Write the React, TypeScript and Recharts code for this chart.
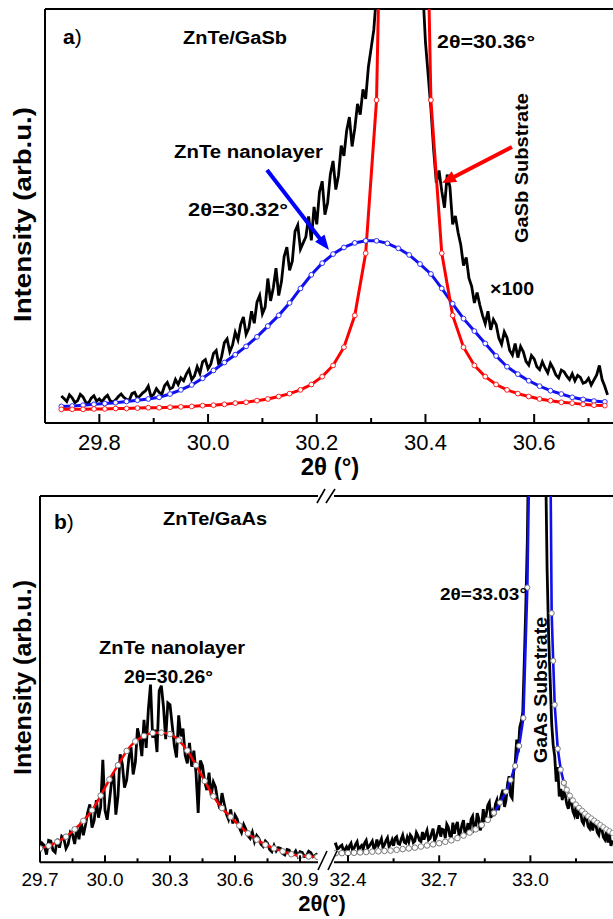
import React from 'react';
import { LineChart, Line, XAxis, YAxis, ReferenceLine } from 'recharts';

const FONT = '"Liberation Sans", Arial, Helvetica, sans-serif';

// ---------- Panel a) ZnTe/GaSb ----------
const aNoiseStart = 29.73;
const aNoiseStep = 0.005;
const aMeasured = [
  6.5, 5.9, 5.2, 6.8, 6.1, 4.9, 5.4, 6.9, 6.3, 5.0, 4.8, 6.0, 6.6, 5.3, 5.8,
  5.1, 6.1, 6.7, 5.4, 5.0, 5.6, 6.4, 7.0, 6.2, 5.7, 5.5, 7.1, 7.4, 6.0, 6.6, 7.3,
  7.8, 8.9, 6.4, 6.9, 8.3, 7.4, 7.0, 9.0, 9.8, 8.2, 8.6, 10.5, 9.3, 10.9,
  10.2, 11.8, 12.9, 10.5, 11.4, 13.6, 12.0, 14.8, 15.3, 13.1,
  14.2, 16.8, 17.5, 13.9, 16.1, 19.4, 20.3, 17.2, 18.8, 21.9,
  20.1, 23.8, 25.6, 21.4, 22.9, 27.0, 24.1, 29.2, 30.8, 26.4,
  28.0, 34.9, 29.5, 32.6, 37.4, 30.8, 34.1, 40.2, 42.5, 36.9,
  39.1, 46.3, 47.8, 42.0, 43.5, 45.0, 49.9, 44.1, 52.2, 48.0,
  55.8, 58.4, 50.3, 53.2, 60.1, 63.3, 56.4, 59.8, 67.0, 64.5,
  70.6, 73.9, 66.8, 71.2, 77.1, 74.5, 80.6, 78.3, 86.0, 90.5,
  95, 104, 130, 150, 160, 170, 180, 190, 200, 210, 200, 190, 180, 170, 160, 150, 130, 115,
  105, 92, 84, 76, 66, 58,
  61, 56, 52, 60, 57, 48, 50, 46, 43, 38,
  40, 35, 33, 29, 31.5, 28.5, 26, 24, 27, 22.5,
  25, 23.8, 20.5, 19, 22, 20.6, 17.5, 16.4, 19.2, 15.8,
  18.5, 17.2, 14.9, 14.0, 16.3, 15.5, 13.6, 12.9, 14.8, 13.3,
  12.1, 14.4, 13.2, 11.6, 10.9, 12.8, 12.4, 11.3, 10.5, 11.9,
  10.2, 11.5, 11.0, 9.6, 9.9, 10.8, 9.2, 10.4, 11.6, 13.9,
  10.5, 8.8, 6.8,
];

const aFitStart = 29.73;
const aFitStep = 0.02;
const aZnTeFit = [
  4.0, 4.1, 4.3, 4.5, 4.7, 4.9, 5.2, 5.5, 5.8, 6.2,
  7.0, 8.0, 9.2, 10.8, 12.7, 14.6, 16.5, 18.5, 20.8, 23.4,
  26.0, 29.0, 32.5, 35.8, 38.6, 40.8, 42.4, 43.5, 44.0, 44.0,
  43.4, 42.2, 40.6, 38.4, 36.0, 32.5, 28.8, 25.2, 22.2, 19.2,
  16.2, 13.6, 11.8, 10.2, 8.9, 7.8, 7.0, 6.2, 5.7, 5.3, 5.1,
];
const aGaSbFit = [
  3.3, 3.3, 3.3, 3.4, 3.4, 3.5, 3.5, 3.6, 3.7, 3.7,
  3.8, 3.9, 4.0, 4.2, 4.3, 4.5, 4.8, 5.0, 5.4, 5.8,
  6.4, 7.1, 8.0, 9.3, 11.2, 13.9, 18.3, 26, 41, 78,
  212, 1500, 1500, 212, 78, 41, 26, 18.3, 13.9, 11.2,
  9.3, 8.0, 7.1, 6.4, 5.8, 5.4, 5.0, 4.8, 4.5, 4.3, 4.2,
];
const aDomain = [29.7, 30.75];
const aTicks = [29.8, 29.9, 30.0, 30.1, 30.2, 30.3, 30.4, 30.5, 30.6, 30.7];
const aMajorTicks = [29.8, 30.0, 30.2, 30.4, 30.6];

// ---------- Panel b) ZnTe/GaAs ----------
const bLeftStart = 29.7;
const bLeftStep = 0.01;
const bLeftMeasured = [
  3.0, 5.2, 4.6, 2.1, 6.0, 5.8, 3.3, 2.7, 6.4, 4.0,
  7.1, 6.5, 3.8, 4.9, 8.2, 7.6, 5.0, 9.4, 6.3, 11.0,
  7.4, 10.2, 13.6, 15.8, 9.5, 11.4, 17.0, 12.2, 15.1, 28.0,
  14.2, 11.6, 16.5, 21.8, 24.6, 13.0, 18.1, 29.5, 26.8, 20.4,
  22.5, 28.4, 31.5, 24.0, 27.3, 36.6, 33.8, 29.0, 38.9, 31.2,
  41.6, 48.5, 34.0, 36.2, 30.1, 46.8, 48.2, 42.4, 33.6, 43.5,
  43.0, 37.5, 31.8, 28.6, 40.1, 34.4, 36.5, 29.2, 27.0, 32.6,
  26.1, 30.5, 24.4, 13.5, 27.8, 26.3, 22.0, 19.7, 24.5, 18.3,
  21.9, 20.5, 16.8, 14.6, 18.9, 16.0, 13.2, 11.7, 14.4, 10.6,
  12.9, 11.8, 9.4, 8.1, 10.3, 9.0, 7.2, 6.5, 8.2, 5.6,
  7.3, 6.5, 4.9, 4.3, 5.8, 5.2, 3.5, 2.9, 4.6, 3.1,
  4.0, 3.8, 2.4, 2.0, 3.5, 3.3, 1.9, 2.2, 3.1, 1.7,
  2.9, 2.7, 1.6, 1.8, 3.0, 2.6, 1.5, 1.9, 2.4,
];
const bLeftFitStart = 29.7;
const bLeftFitStep = 0.04;
const bZnTeFit = [
  3.8, 4.5, 5.6, 7.0, 9.0, 11.3, 14.2, 18.2, 22.6, 26.5,
  30.4, 33.0, 34.5, 35.3, 35.4, 35.0, 33.3, 30.5, 26.5, 22.2,
  18.0, 14.8, 12.4, 10.0, 7.9, 6.2, 4.8, 3.8, 3.0, 2.2,
  1.8, 1.6, 1.5,
];
const bLeftDomain = [29.7, 30.983];
const bLeftTicks = [29.7, 29.85, 30.0, 30.15, 30.3, 30.45, 30.6, 30.75, 30.9];
const bLeftMajorTicks = [29.7, 30.0, 30.3, 30.6, 30.9];

const bRightStart = 32.355;
const bRightStep = 0.005;
const bRightMeasured = [
  4.8, 5.0, 3.6, 3.9, 4.4, 4.7, 3.1, 3.5, 4.2, 2.9,
  4.5, 5.2, 3.3, 3.8, 4.9, 5.6, 3.2, 4.1, 4.6, 3.6,
  5.3, 6.0, 3.9, 4.4, 5.1, 5.8, 3.7, 4.2, 6.2, 4.6,
  5.4, 6.4, 4.0, 4.8, 5.9, 6.7, 4.3, 5.0, 6.1, 4.5,
  6.6, 7.0, 5.1, 4.9, 6.3, 7.4, 5.5, 5.2, 6.8, 5.6,
  7.5, 6.9, 5.4, 5.8, 8.1, 7.3, 6.0, 5.7, 8.3, 6.2,
  7.6, 8.7, 6.1, 6.5, 7.9, 9.2, 5.9, 6.8, 8.4, 10.1,
  7.0, 9.0, 8.8, 6.6, 10.4, 9.6, 7.2, 6.9, 10.8, 7.8,
  9.9, 11.0, 7.4, 8.2, 10.2, 11.5, 7.6, 8.6, 10.7, 8.0,
  11.8, 12.6, 8.9, 9.4, 13.4, 12.0, 8.7, 10.1, 14.5, 11.0,
  13.2, 15.6, 16.4, 12.1, 13.8, 12.6, 15.9, 17.0, 14.2, 16.8,
  18.5, 19.8, 15.1, 17.0, 21.4, 23.5, 18.2, 17.5, 24.8, 27.0,
  33.5, 30.0, 36.8, 38.5, 41, 55, 70, 88, 120, 240,
  320, 400, 450, 480, 470, 430, 380, 300, 200, 110,
  80, 62, 50, 38, 32, 29, 22, 26, 18, 20,
  17.0, 19.5, 18.2, 15.8, 14.6, 17.4, 16.2, 13.9, 12.8, 15.0,
  11.9, 14.6, 13.8, 11.2, 10.5, 12.6, 12.0, 9.8, 9.2, 11.5,
  8.7, 11.1, 10.4, 8.2, 7.5, 9.8, 9.1, 6.9, 6.2, 8.4,
  5.4, 7.6, 4.5, 6.0,
];
const bTailLeftX = [32.36, 32.38, 32.40, 32.42, 32.44, 32.46, 32.48, 32.50, 32.52, 32.54, 32.56, 32.58, 32.60, 32.62, 32.64, 32.66, 32.68, 32.70, 32.72, 32.74, 32.76, 32.78, 32.80, 32.82, 32.84, 32.86, 32.88];
const bTailLeftY = [2.5, 2.5, 2.5, 2.6, 2.7, 2.8, 2.9, 3.0, 3.1, 3.2, 3.4, 3.6, 3.8, 4.0, 4.3, 4.6, 4.9, 5.2, 5.6, 6.0, 6.6, 7.3, 8.1, 9.0, 10.2, 11.6, 13.5];
const bPeakX = [32.88, 32.90, 32.92, 32.935, 32.95, 32.963, 32.977, 32.99, 33.00, 33.035, 33.065, 33.07, 33.075, 33.08, 33.09, 33.10, 33.11];
const bPeakY = [13.5, 16.3, 19.3, 22.5, 26.3, 31.8, 39.4, 75, 130, 600, 120, 68, 55, 43, 31, 25.3, 21.7];
const bTailRightX = [33.11, 33.12, 33.13, 33.14, 33.15, 33.16, 33.17, 33.18, 33.19, 33.20, 33.21, 33.22, 33.23, 33.24, 33.25, 33.26, 33.27];
const bTailRightY = [21.7, 19.8, 18.2, 16.9, 15.8, 14.9, 14.1, 13.3, 12.6, 12.0, 11.4, 10.8, 10.2, 9.6, 9.0, 8.5, 8.0];
const bRightDomain = [32.354, 33.28];
const bRightTicks = [32.4, 32.55, 32.7, 32.85, 33.0, 33.15];
const bRightMajorTicks = [32.4, 32.7, 33.0];

// ---------- helpers ----------
const onGrid = (start: number, step: number, ys: number[]) =>
  ys.map((y, i) => ({ x: Math.round((start + i * step) * 10000) / 10000, y }));
const pairs = (xs: number[], ys: number[]) => ys.map((y, i) => ({ x: xs[i], y }));

const makeTick = (majors: number[], fontSize: number, labelDy: number, majorLen: number, minorLen: number) =>
  (props: any) => {
    const { x, y, payload } = props;
    const v = payload.value as number;
    const isMajor = majors.some((m) => Math.abs(m - v) < 1e-6);
    return (
      <g>
        <line x1={x} x2={x} y1={y} y2={y - (isMajor ? majorLen : minorLen)} stroke="#000" strokeWidth={2} />
        {isMajor && (
          <text x={x} y={y + labelDy} textAnchor="middle" fontSize={fontSize} fontFamily={FONT} fill="#000">
            {v.toFixed(1)}
          </text>
        )}
      </g>
    );
  };

const bold = { fontFamily: FONT, fontWeight: 700, fill: '#000' } as const;

export default function App() {
  const aMeas = onGrid(aNoiseStart, aNoiseStep, aMeasured);
  const aZnTe = onGrid(aFitStart, aFitStep, aZnTeFit);
  const aGaSb = onGrid(aFitStart, aFitStep, aGaSbFit);
  const bLMeas = onGrid(bLeftStart, bLeftStep, bLeftMeasured);
  const bLFit = onGrid(bLeftFitStart, bLeftFitStep, bZnTeFit);
  const bRMeas = onGrid(bRightStart, bRightStep, bRightMeasured);
  const bTL = pairs(bTailLeftX, bTailLeftY);
  const bPk = pairs(bPeakX, bPeakY);
  const bTR = pairs(bTailRightX, bTailRightY);

  return (
    <div style={{ position: 'absolute', left: 0, top: 0, width: 613, height: 919, overflow: 'hidden', background: '#fff' }}>
      {/* Panel a */}
      <div style={{ position: 'absolute', left: 0, top: 0 }}>
        <LineChart width={640} height={470} margin={{ top: 9, right: 24.3, bottom: 7, left: 45 }}>
          <XAxis
            dataKey="x"
            type="number"
            domain={aDomain}
            allowDataOverflow
            ticks={aTicks}
            interval={0}
            height={40}
            tickSize={0}
            tickMargin={0}
            tickLine={false}
            axisLine={{ stroke: '#000', strokeWidth: 2 }}
            tick={makeTick(aMajorTicks, 22, 27, 9, 5)}
          />
          <YAxis type="number" domain={[0, 100]} allowDataOverflow hide />
          <ReferenceLine y={100} stroke="#000" strokeWidth={2} />
          <ReferenceLine x={29.7} stroke="#000" strokeWidth={2} />
          <Line data={aMeas} dataKey="y" type="linear" stroke="#000" strokeWidth={2.8} dot={false} isAnimationActive={false} />
          <Line data={aZnTe} dataKey="y" type="linear" stroke="#1010ee" strokeWidth={3}
            dot={{ r: 2.4, fill: '#fff', stroke: '#3030ff', strokeWidth: 1 }} isAnimationActive={false} />
          <Line data={aGaSb} dataKey="y" type="linear" stroke="#ff0000" strokeWidth={3}
            dot={{ r: 2.4, fill: '#fff', stroke: '#ff2020', strokeWidth: 1 }} isAnimationActive={false} />
        </LineChart>
      </div>

      {/* Panel b, left segment */}
      <div style={{ position: 'absolute', left: 0, top: 480 }}>
        <LineChart width={330} height={420} margin={{ top: 16, right: 12, bottom: 7.7, left: 40 }}>
          <XAxis
            dataKey="x"
            type="number"
            domain={bLeftDomain}
            allowDataOverflow
            ticks={bLeftTicks}
            interval={0}
            height={30}
            tickSize={0}
            tickMargin={0}
            tickLine={false}
            axisLine={{ stroke: '#000', strokeWidth: 2 }}
            tick={makeTick(bLeftMajorTicks, 19, 24, 7, 4)}
          />
          <YAxis type="number" domain={[0, 100]} allowDataOverflow hide />
          <ReferenceLine y={100} stroke="#000" strokeWidth={2} />
          <ReferenceLine x={29.7} stroke="#000" strokeWidth={2} />
          <Line data={bLMeas} dataKey="y" type="linear" stroke="#000" strokeWidth={2.8} dot={false} isAnimationActive={false} />
          <Line data={bLFit} dataKey="y" type="monotone" stroke="#ff0000" strokeWidth={2.5}
            dot={{ r: 2.8, fill: '#fff', stroke: '#777', strokeWidth: 1 }} isAnimationActive={false} />
        </LineChart>
      </div>

      {/* Panel b, right segment */}
      <div style={{ position: 'absolute', left: 300, top: 480 }}>
        <LineChart width={340} height={420} margin={{ top: 16, right: 24.5, bottom: 7.7, left: 34 }}>
          <XAxis
            dataKey="x"
            type="number"
            domain={bRightDomain}
            allowDataOverflow
            ticks={bRightTicks}
            interval={0}
            height={30}
            tickSize={0}
            tickMargin={0}
            tickLine={false}
            axisLine={{ stroke: '#000', strokeWidth: 2 }}
            tick={makeTick(bRightMajorTicks, 19, 24, 7, 4)}
          />
          <YAxis type="number" domain={[0, 100]} allowDataOverflow hide />
          <ReferenceLine y={100} stroke="#000" strokeWidth={2} />
          <Line data={bRMeas} dataKey="y" type="linear" stroke="#000" strokeWidth={2.8} dot={false} isAnimationActive={false} />
          <Line data={bTL} dataKey="y" type="linear" stroke="none" strokeWidth={0}
            dot={{ r: 2.8, fill: '#fff', stroke: '#777', strokeWidth: 1 }} isAnimationActive={false} />
          <Line data={bTR} dataKey="y" type="linear" stroke="#9a9a9a" strokeWidth={3}
            dot={{ r: 2.6, fill: '#fff', stroke: '#888', strokeWidth: 1 }} isAnimationActive={false} />
          <Line data={bPk} dataKey="y" type="linear" stroke="#1010ee" strokeWidth={2.6}
            dot={{ r: 2.6, fill: '#fff', stroke: '#777', strokeWidth: 1 }} isAnimationActive={false} />
        </LineChart>
      </div>

      {/* Annotations */}
      <svg width={613} height={919} style={{ position: 'absolute', left: 0, top: 0, pointerEvents: 'none' }}>
        {/* Panel a texts */}
        <text x={63} y={44} fontSize={21} fontFamily={FONT} fill="#000">
          <tspan fontWeight={700}>a</tspan><tspan>)</tspan>
        </text>
        <text x={183} y={43.5} fontSize={18} textLength={104} lengthAdjust="spacingAndGlyphs" {...bold}>ZnTe/GaSb</text>
        <text x={437} y={48} fontSize={18} textLength={98} lengthAdjust="spacingAndGlyphs" {...bold}>2θ=30.36°</text>
        <text x={174} y={158} fontSize={18} textLength={149} lengthAdjust="spacingAndGlyphs" {...bold}>ZnTe nanolayer</text>
        <text x={188} y={216} fontSize={18} textLength={100} lengthAdjust="spacingAndGlyphs" {...bold}>2θ=30.32°</text>
        <text x={490} y={295} fontSize={18} textLength={44} lengthAdjust="spacingAndGlyphs" {...bold}>×100</text>
        <text transform="translate(528,243) rotate(-90)" fontSize={19} textLength={150} lengthAdjust="spacingAndGlyphs" {...bold}>GaSb Substrate</text>
        <text transform="translate(31,322) rotate(-90)" fontSize={23} textLength={215} lengthAdjust="spacingAndGlyphs" {...bold}>Intensity (arb.u.)</text>
        <text x={330} y={475} textAnchor="middle" fontSize={24} {...bold}>2θ (°)</text>
        {/* red arrow */}
        <line x1={512} y1={147} x2={452} y2={178} stroke="#ff0000" strokeWidth={4} />
        <polygon points="442,183 457.1,181.9 451.7,171.3" fill="#ff0000" />
        {/* blue arrow */}
        <line x1={267} y1={170} x2={321} y2={240} stroke="#0000ff" strokeWidth={4} />
        <polygon points="329,250 315.1,241.8 324.5,234.4" fill="#0000ff" />

        {/* Panel b texts */}
        <text x={54} y={529} fontSize={21} fontFamily={FONT} fill="#000">
          <tspan fontWeight={700}>b</tspan><tspan>)</tspan>
        </text>
        <text x={163} y={525} fontSize={18} textLength={104} lengthAdjust="spacingAndGlyphs" {...bold}>ZnTe/GaAs</text>
        <text x={440} y={600} fontSize={17} textLength={87} lengthAdjust="spacingAndGlyphs" {...bold}>2θ=33.03°</text>
        <text transform="translate(547,763) rotate(-90)" fontSize={19} textLength={146} lengthAdjust="spacingAndGlyphs" {...bold}>GaAs Substrate</text>
        <text x={99} y={654} fontSize={18} textLength={146} lengthAdjust="spacingAndGlyphs" {...bold}>ZnTe nanolayer</text>
        <text x={124} y={683} fontSize={18} textLength={89} lengthAdjust="spacingAndGlyphs" {...bold}>2θ=30.26°</text>
        <text transform="translate(31,775) rotate(-90)" fontSize={23} textLength={195} lengthAdjust="spacingAndGlyphs" {...bold}>Intensity (arb.u.)</text>
        <text x={322} y={911} textAnchor="middle" fontSize={22} {...bold}>2θ(°)</text>

        {/* axis break marks */}
        <line x1={317} y1={503} x2={325} y2={489} stroke="#000" strokeWidth={1.6} />
        <line x1={326} y1={503} x2={335} y2={489} stroke="#000" strokeWidth={1.6} />
        <line x1={318} y1={870} x2={327} y2={851} stroke="#000" strokeWidth={1.6} />
        <line x1={328} y1={870} x2={337} y2={851} stroke="#000" strokeWidth={1.6} />
      </svg>
    </div>
  );
}
